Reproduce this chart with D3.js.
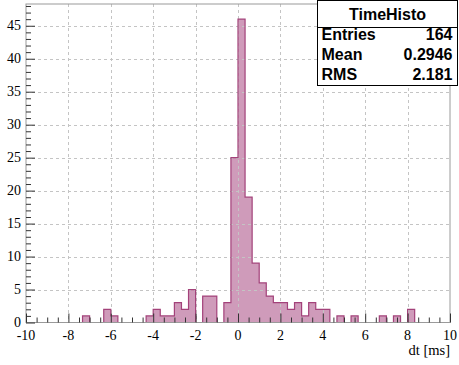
<!DOCTYPE html>
<html>
<head>
<meta charset="utf-8">
<script src="https://cdn.jsdelivr.net/npm/d3@7"></script>
<style>
  html, body { margin: 0; padding: 0; background: #fff; }
  svg { display: block; }
  .serif { font-family: "Liberation Serif", "DejaVu Serif", serif; }
  .sans { font-family: "Liberation Sans", Arial, sans-serif; font-weight: bold; }
</style>
</head>
<body>
<svg id="chart" width="459" height="365"></svg>
<script>
// Histogram of time differences: 60 bins over [-10, 10] ms
const binRange = [-10, 10];
const binCount = 60;
const counts = [
  0, 0, 0, 0, 0, 0, 0, 0, 1, 0,
  0, 2, 1, 0, 0, 0, 0, 1, 2, 1,
  1, 3, 2, 5, 0, 4, 4, 0, 3, 25,
  46, 19, 9, 6, 4, 3, 3, 2, 3, 1,
  3, 2, 2, 0, 1, 0, 1, 0, 0, 0,
  1, 0, 1, 0, 2, 0, 0, 0, 0, 0
];
const xMajorTicks = [-10, -8, -6, -4, -2, 0, 2, 4, 6, 8, 10];
const yMajorTicks = [0, 5, 10, 15, 20, 25, 30, 35, 40, 45];
const yMax = 48.3;
const xTitle = "dt [ms]";
const statsTitle = "TimeHisto";
const statsRows = [["Entries", "164"], ["Mean", "0.2946"], ["RMS", "2.181"]];

const svg = d3.select("#chart");
const plot = { left: 26, right: 450, top: 4, bottom: 322.5 };

const x = d3.scaleLinear().domain(binRange).range([plot.left, plot.right]);
const y = d3.scaleLinear().domain([0, yMax]).range([plot.bottom, plot.top]);

const binWidth = (binRange[1] - binRange[0]) / binCount;
const steps = counts.map((c, i) => ({ lo: binRange[0] + i * binWidth, v: c }));
steps.push({ lo: binRange[1], v: counts[counts.length - 1] });

const fillColor = "#cf9bba";
const lineColor = "#a3427a";

// filled histogram body
svg.append("path")
  .datum(steps)
  .attr("fill", fillColor)
  .attr("d", d3.area().curve(d3.curveStepAfter)
    .x(d => x(d.lo)).y0(y(0)).y1(d => y(d.v)));

// grid over the bars
const grid = svg.append("g").attr("stroke", "#c4c4c4").attr("stroke-width", 1)
  .attr("stroke-dasharray", "3,3").attr("fill", "none");
xMajorTicks.filter(t => t > binRange[0] && t < binRange[1]).forEach(t => {
  grid.append("line").attr("x1", Math.round(x(t)) + 0.5).attr("x2", Math.round(x(t)) + 0.5)
    .attr("y1", plot.top).attr("y2", plot.bottom);
});
yMajorTicks.filter(t => t > 0).forEach(t => {
  grid.append("line").attr("y1", Math.round(y(t)) + 0.5).attr("y2", Math.round(y(t)) + 0.5)
    .attr("x1", plot.left).attr("x2", plot.right);
});

// histogram outline
svg.append("path")
  .datum(steps)
  .attr("fill", "none")
  .attr("stroke", lineColor)
  .attr("stroke-width", 1.2)
  .attr("d", d3.line().curve(d3.curveStepAfter).x(d => x(d.lo)).y(d => y(d.v)));

// frame
svg.append("rect")
  .attr("x", plot.left).attr("y", plot.top)
  .attr("width", plot.right - plot.left).attr("height", plot.bottom - plot.top)
  .attr("fill", "none").attr("stroke", "#9a9a9a").attr("stroke-width", 1);

// x axis ticks (pointing up into the frame)
const xAxis = svg.append("g")
  .attr("transform", `translate(0,${plot.bottom})`)
  .call(d3.axisTop(x).tickValues(d3.range(-10, 10.001, 0.5)).tickSize(5).tickFormat(""));
xAxis.select(".domain").remove();
xAxis.selectAll(".tick line").attr("stroke", "#333");
xAxis.selectAll(".tick").filter(d => Math.abs(d % 2) < 1e-9).select("line").attr("y2", -9);

// y axis ticks (pointing right into the frame)
const yAxis = svg.append("g")
  .attr("transform", `translate(${plot.left},0)`)
  .call(d3.axisRight(y).tickValues(d3.range(0, 48.001, 1)).tickSize(5).tickFormat(""));
yAxis.select(".domain").remove();
yAxis.selectAll(".tick line").attr("stroke", "#333");
yAxis.selectAll(".tick").filter(d => d % 5 === 0).select("line").attr("x2", 9);

// tick labels
svg.append("g").selectAll("text").data(xMajorTicks).join("text")
  .attr("class", "serif")
  .attr("x", d => x(d)).attr("y", 340)
  .attr("text-anchor", "middle")
  .attr("font-size", 14)
  .text(d => d);
svg.append("g").selectAll("text").data(yMajorTicks).join("text")
  .attr("class", "serif")
  .attr("x", 21).attr("y", d => y(d) + 4.5)
  .attr("text-anchor", "end")
  .attr("font-size", 14)
  .text(d => d);

// axis title
svg.append("text")
  .attr("class", "serif")
  .attr("x", plot.right).attr("y", 355)
  .attr("text-anchor", "end")
  .attr("font-size", 14.5)
  .text(xTitle);

// statistics box
const box = { x: 317.5, y: 0.5, w: 140, h: 85 };
const stats = svg.append("g");
stats.append("rect")
  .attr("x", box.x).attr("y", box.y).attr("width", box.w).attr("height", box.h)
  .attr("fill", "#fff").attr("stroke", "#000").attr("stroke-width", 1);
stats.append("line")
  .attr("x1", box.x).attr("x2", box.x + box.w).attr("y1", 27.5).attr("y2", 27.5)
  .attr("stroke", "#000");
stats.append("text")
  .attr("class", "sans")
  .attr("x", box.x + box.w / 2).attr("y", 20)
  .attr("text-anchor", "middle")
  .attr("font-size", 16)
  .text(statsTitle);
statsRows.forEach((r, i) => {
  const by = 40 + i * 20;
  stats.append("text").attr("class", "sans").attr("x", box.x + 4).attr("y", by)
    .attr("font-size", 16)
    .text(r[0]);
  stats.append("text").attr("class", "sans").attr("x", box.x + box.w - 5).attr("y", by)
    .attr("text-anchor", "end")
    .attr("font-size", 16)
    .text(r[1]);
});
</script>
</body>
</html>
